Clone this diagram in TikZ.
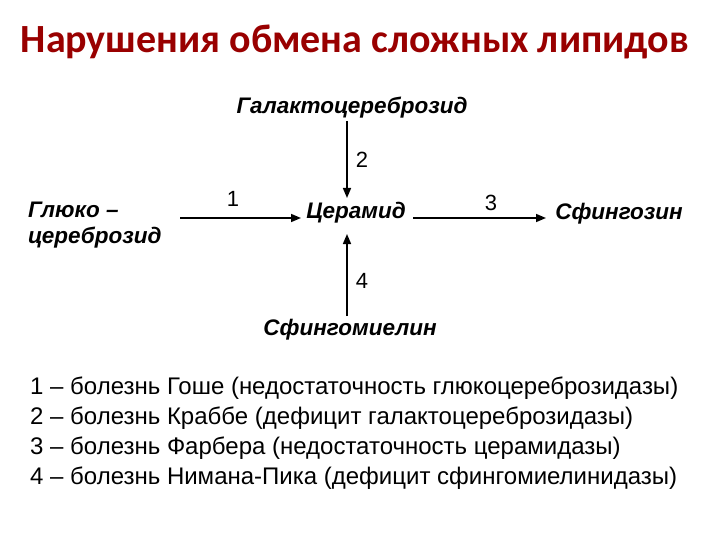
\documentclass[tikz,border=0pt]{standalone}
\usepackage{fontspec}
\setmainfont{Liberation Sans}
\newfontfamily\titlefont{Carlito}
\usetikzlibrary{arrows.meta}
\begin{document}
\begin{tikzpicture}[x=1pt,y=-1pt,
  chem/.style={font=\fontsize{22.5}{26}\selectfont\bfseries\itshape, inner sep=0pt},
  num/.style={font=\fontsize{22}{26}\selectfont, inner sep=0pt},
  leg/.style={font=\fontsize{24}{28}\selectfont, anchor=west, inner sep=0pt},
  arr/.style={-{Triangle[length=10pt,width=8pt]}, line width=1.6pt}]
\useasboundingbox (0,0) rectangle (720,540);
\node[font=\titlefont\fontsize{40}{46}\selectfont\bfseries, text=red!60!black] (title) at (355,42) {Нарушения обмена сложных липидов};
\node[chem] (gal) at (352,108) {Галактоцереброзид};
\node[chem] (cer) at (356,213) {Церамид};
\node[chem, align=left, anchor=west] (glu) at (28,225) {Глюко –\\цереброзид};
\node[chem] (sfg) at (619,214) {Сфингозин};
\node[chem] (sm) at (350,330) {Сфингомиелин};
\coordinate (gtop) at (347,121);
\coordinate (gbot) at (347,198);
\coordinate (l1) at (180,218);
\coordinate (r1) at (301,218);
\coordinate (l3) at (413,218);
\coordinate (r3) at (546,218);
\coordinate (sbot) at (347,316);
\coordinate (stop) at (347,234);
\draw[arr] (gtop) -- (gbot);
\draw[arr] (l1) -- (r1);
\draw[arr] (l3) -- (r3);
\draw[arr] (sbot) -- (stop);
\node[num] (n2) at (362,160) {2};
\node[num] (n1) at (233,199) {1};
\node[num] (n3) at (491,203) {3};
\node[num] (n4) at (362,281) {4};
\node[leg] (a) at (30,388) {1 – болезнь Гоше (недостаточность глюкоцереброзидазы)};
\node[leg] (b) at (30,418) {2 – болезнь Краббе (дефицит галактоцереброзидазы)};
\node[leg] (c) at (30,448) {3 – болезнь Фарбера (недостаточность церамидазы)};
\node[leg] (d) at (30,478) {4 – болезнь Нимана-Пика (дефицит сфингомиелинидазы)};
\end{tikzpicture}
\end{document}
